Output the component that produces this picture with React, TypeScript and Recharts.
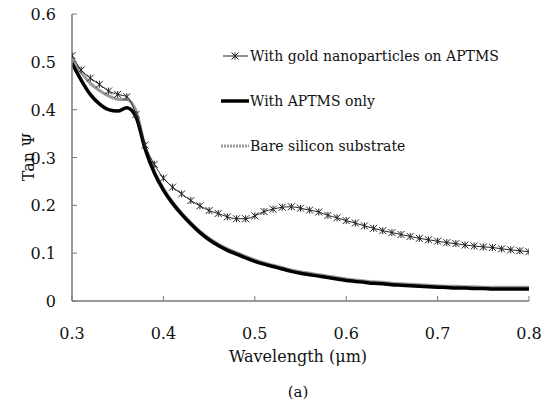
import React from "react";
import { LineChart, Line, XAxis, YAxis } from "recharts";

const wavelengths = [0.30,0.31,0.32,0.33,0.34,0.35,0.36,0.37,0.38,0.39,0.40,0.41,0.42,0.43,0.44,0.45,0.46,0.47,0.48,0.49,0.50,0.51,0.52,0.53,0.54,0.55,0.56,0.57,0.58,0.59,0.60,0.61,0.62,0.63,0.64,0.65,0.66,0.67,0.68,0.69,0.70,0.71,0.72,0.73,0.74,0.75,0.76,0.77,0.78,0.79,0.80];
const goldValues = [0.513,0.483,0.466,0.453,0.439,0.432,0.427,0.390,0.326,0.286,0.257,0.238,0.224,0.210,0.199,0.189,0.183,0.176,0.172,0.172,0.178,0.187,0.192,0.196,0.197,0.194,0.190,0.186,0.179,0.174,0.168,0.163,0.157,0.152,0.147,0.143,0.139,0.135,0.131,0.128,0.125,0.122,0.120,0.117,0.115,0.113,0.112,0.109,0.107,0.105,0.103];
const aptmsValues = [0.497,0.462,0.432,0.412,0.400,0.397,0.404,0.385,0.318,0.268,0.232,0.204,0.181,0.161,0.143,0.128,0.116,0.106,0.098,0.090,0.083,0.077,0.072,0.067,0.062,0.058,0.055,0.052,0.049,0.046,0.043,0.041,0.039,0.037,0.036,0.034,0.033,0.032,0.031,0.030,0.029,0.028,0.027,0.027,0.026,0.026,0.025,0.025,0.025,0.025,0.025];
const bareValues = [0.503,0.478,0.455,0.440,0.429,0.422,0.421,0.398,0.322,0.271,0.235,0.207,0.184,0.164,0.146,0.131,0.119,0.109,0.101,0.093,0.086,0.080,0.075,0.070,0.065,0.061,0.058,0.055,0.052,0.049,0.046,0.044,0.042,0.040,0.039,0.037,0.036,0.035,0.034,0.033,0.032,0.031,0.031,0.030,0.030,0.029,0.029,0.029,0.029,0.029,0.029];
const xTicks = [0.3, 0.4, 0.5, 0.6, 0.7, 0.8];
const yTicks = [0, 0.1, 0.2, 0.3, 0.4, 0.5, 0.6];
const seriesNames = ["With gold nanoparticles on APTMS", "With APTMS only", "Bare silicon substrate"];

const data = wavelengths.map((w, i) => ({
  w,
  gold: goldValues[i],
  aptms: aptmsValues[i],
  bare: bareValues[i],
}));

const FONT = "DejaVu Serif, serif";
const AXIS = "#7a7a7a";

const Star = (props: any) => {
  const { cx, cy } = props;
  if (cx == null || cy == null) return null;
  const r = 3.5;
  return (
    <g stroke="#222" strokeWidth={1}>
      <line x1={cx - r} y1={cy - r} x2={cx + r} y2={cy + r} />
      <line x1={cx - r} y1={cy + r} x2={cx + r} y2={cy - r} />
      <line x1={cx} y1={cy - r} x2={cx} y2={cy + r} />
    </g>
  );
};

const XTick = (props: any) => {
  const { x, y, payload } = props;
  return (
    <g>
      <line x1={x} y1={y} x2={x} y2={y - 5} stroke={AXIS} strokeWidth={1} />
      <text x={x} y={y + 38} textAnchor="middle" fontFamily={FONT} fontSize={16} fill="#111">
        {payload.value}
      </text>
    </g>
  );
};

const YTick = (props: any) => {
  const { x, y, payload } = props;
  return (
    <g>
      <line x1={x} y1={y} x2={x + 5} y2={y} stroke={AXIS} strokeWidth={1} />
      <text x={x - 16} y={y + 6} textAnchor="end" fontFamily={FONT} fontSize={16} fill="#111">
        {payload.value}
      </text>
    </g>
  );
};

export default function App() {
  return (
    <div style={{ position: "absolute", left: 0, top: 0, width: 548, height: 403, background: "#fff", fontFamily: FONT }}>
      <LineChart width={548} height={403} data={data} margin={{ top: 14, right: 19, left: 0, bottom: 0 }}>
        <XAxis
          dataKey="w"
          type="number"
          domain={[0.3, 0.8]}
          ticks={xTicks}
          height={102}
          tickSize={0}
          tickMargin={0}
          tickLine={false}
          axisLine={{ stroke: AXIS, strokeWidth: 1.5 }}
          tick={<XTick />}
          interval={0}
          allowDataOverflow
        />
        <XAxis
          xAxisId="top"
          orientation="top"
          dataKey="w"
          type="number"
          domain={[0.3, 0.8]}
          height={0}
          tick={false}
          tickLine={false}
          axisLine={{ stroke: AXIS, strokeWidth: 1 }}
        />
        <YAxis
          type="number"
          domain={[0, 0.6]}
          ticks={yTicks}
          width={72}
          tickSize={0}
          tickMargin={0}
          tickLine={false}
          axisLine={{ stroke: AXIS, strokeWidth: 1.5 }}
          tick={<YTick />}
          interval={0}
        />
        <YAxis
          yAxisId="right"
          orientation="right"
          type="number"
          domain={[0, 0.6]}
          width={0}
          tick={false}
          tickLine={false}
          axisLine={{ stroke: AXIS, strokeWidth: 1 }}
        />
        <Line dataKey="bare" type="monotone" stroke="#9a9a9a" strokeWidth={3} dot={false} isAnimationActive={false} />
        <Line dataKey="aptms" type="monotone" stroke="#000" strokeWidth={3.5} dot={false} isAnimationActive={false} />
        <Line dataKey="gold" type="monotone" stroke="#222" strokeWidth={1} dot={<Star />} isAnimationActive={false} />
      </LineChart>
      <div style={{ position: "absolute", left: 0, top: 0, pointerEvents: "none" }}>
        <svg width={548} height={403}>
          <line x1={223} y1={56} x2={248} y2={56} stroke="#222" strokeWidth={1} />
          <Star cx={235} cy={56} />
          <text x={250} y={61} fontFamily={FONT} fontSize={14} fill="#111">{seriesNames[0]}</text>
          <line x1={221} y1={101} x2={249} y2={101} stroke="#000" strokeWidth={3.5} />
          <text x={250} y={106} fontFamily={FONT} fontSize={14} fill="#111">{seriesNames[1]}</text>
          <line x1={221} y1={146} x2={249} y2={146} stroke="#9a9a9a" strokeWidth={3} strokeDasharray="2 1" />
          <text x={250} y={151} fontFamily={FONT} fontSize={14} fill="#111">{seriesNames[2]}</text>
          <text x={298} y={362} textAnchor="middle" fontFamily={FONT} fontSize={16} fill="#111">Wavelength (μm)</text>
          <text x={298} y={397} textAnchor="middle" fontFamily={FONT} fontSize={15} fill="#111">(a)</text>
          <text x={0} y={0} transform="translate(34,157) rotate(-90)" textAnchor="middle" fontFamily={FONT} fontSize={16} fill="#111">Tan Ψ</text>
        </svg>
      </div>
    </div>
  );
}
